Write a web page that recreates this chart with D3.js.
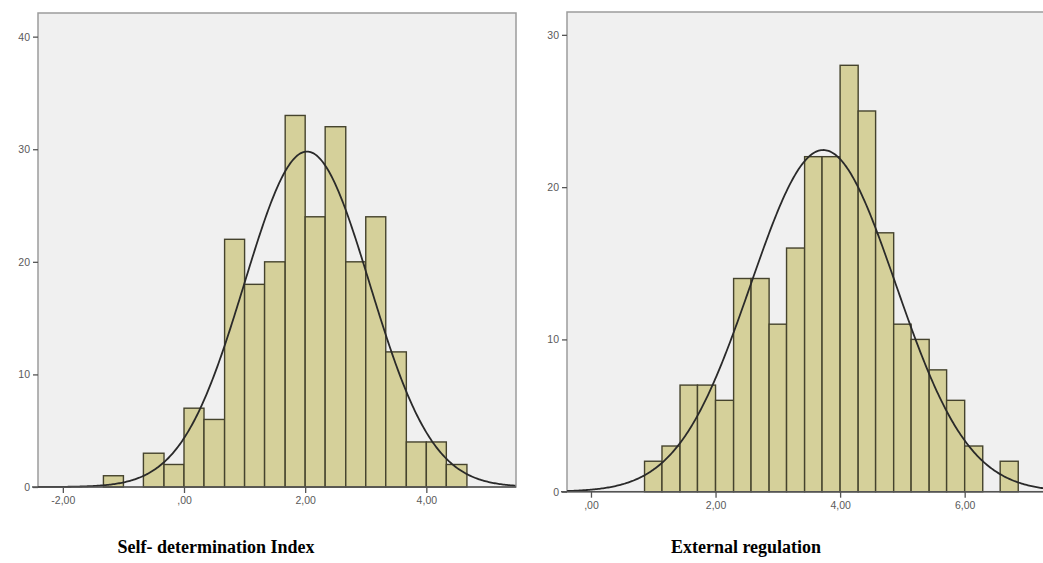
<!DOCTYPE html>
<html>
<head>
<meta charset="utf-8">
<script src="https://cdn.jsdelivr.net/npm/d3@7"></script>
<style>
  body { margin: 0; background: #fff; }
  .tick text { font-family: "Liberation Sans", Arial, sans-serif; font-size: 10.5px; fill: #5a5a5a; }
  .tick line { stroke: #555; stroke-width: 1.3; }
  .domain { display: none; }
  .title { font-family: "Liberation Serif", "Times New Roman", serif; font-weight: bold; font-size: 18px; fill: #000; }
</style>
</head>
<body>
<div id="chart"></div>
<script>
// two SPSS style histograms with fitted normal curve

// Self-determination Index
let sdiEdges = [-1.33, -1.00, -0.67, -0.33, 0.00, 0.33, 0.67, 1.00, 1.33, 1.67, 2.00, 2.33, 2.67, 3.00, 3.33, 3.67, 4.00, 4.33, 4.67]
let sdiCounts = [1, 0, 3, 2, 7, 6, 22, 18, 20, 33, 24, 32, 20, 24, 12, 4, 4, 2]
let sdiMean = 2.03
let sdiSd = 1.034
let sdiXTicks = [-2, 0, 2, 4]
let sdiYTicks = [0, 10, 20, 30, 40]

// External regulation
let erEdges = [0.86, 1.14, 1.43, 1.71, 2.00, 2.29, 2.57, 2.86, 3.14, 3.43, 3.71, 4.00, 4.29, 4.57, 4.86, 5.14, 5.43, 5.71, 6.00, 6.29, 6.57, 6.86]
let erCounts = [2, 3, 7, 7, 6, 14, 14, 11, 16, 22, 22, 28, 25, 17, 11, 10, 8, 6, 3, 0, 2]
let erMean = 3.73
let erSd = 1.165
let erXTicks = [0, 2, 4, 6]
let erYTicks = [0, 10, 20, 30]

let titles = ["Self- determination Index", "External regulation"]

let width = 1043
let height = 563

let svg = d3.select('#chart')
    .append('svg')
    .attr('width', width)
    .attr('height', height)

let fmt = d => d === 0 ? ',00' : d.toFixed(2).replace('.', ',')

function histogram(opts) {
    let x = d3.scaleLinear().domain(opts.xDomain).range([opts.left, opts.right])
    let y = d3.scaleLinear().domain(opts.yDomain).range([opts.bottom, opts.top])

    let g = svg.append('g')

    g.append('rect')
        .attr('x', opts.left)
        .attr('y', opts.top)
        .attr('width', opts.right - opts.left)
        .attr('height', opts.bottom - opts.top)
        .attr('fill', '#f0f0f0')
        .attr('stroke', '#9c9c9c')
        .attr('stroke-width', 1.5)

    let bins = opts.counts.map((c, i) => ({lo: opts.edges[i], hi: opts.edges[i + 1], n: c}))
        .filter(b => b.n > 0)

    g.selectAll('.bar')
        .data(bins)
        .enter()
        .append('rect')
        .attr('class', 'bar')
        .attr('x', d => x(d.lo))
        .attr('y', d => y(d.n))
        .attr('width', d => x(d.hi) - x(d.lo))
        .attr('height', d => y(0) - y(d.n))
        .attr('fill', '#d5d09a')
        .attr('stroke', '#45432d')
        .attr('stroke-width', 1.4)

    // fitted normal curve
    let n = d3.sum(opts.counts)
    let bw = opts.edges[1] - opts.edges[0]
    let curve = d3.range(opts.xDomain[0], opts.xDomain[1] + 0.01, 0.02).map(v => {
        let z = (v - opts.mean) / opts.sd
        return [v, n * bw * Math.exp(-z * z / 2) / (opts.sd * Math.sqrt(2 * Math.PI))]
    })
    g.append('path')
        .datum(curve)
        .attr('fill', 'none')
        .attr('stroke', '#2a2a2a')
        .attr('stroke-width', 1.8)
        .attr('d', d3.line().x(d => x(d[0])).y(d => y(d[1])))

    // x axis line
    g.append('line')
        .attr('x1', opts.left - 6).attr('x2', opts.right)
        .attr('y1', y(0)).attr('y2', y(0))
        .attr('stroke', '#555').attr('stroke-width', 1.5)

    g.append('g')
        .attr('transform', `translate(0,${y(0)})`)
        .call(d3.axisBottom(x).tickValues(opts.xTicks).tickFormat(fmt).tickSize(6).tickPadding(4))

    g.append('g')
        .attr('transform', `translate(${opts.left},0)`)
        .call(d3.axisLeft(y).tickValues(opts.yTicks).tickSize(5).tickPadding(3))

    g.append('text')
        .attr('class', 'title')
        .attr('x', opts.titleX)
        .attr('y', 553)
        .attr('text-anchor', 'middle')
        .text(opts.title)
}

histogram({
    edges: sdiEdges, counts: sdiCounts, mean: sdiMean, sd: sdiSd,
    xTicks: sdiXTicks, yTicks: sdiYTicks,
    xDomain: [-2.41, 5.48], yDomain: [0, 42.1],
    left: 38, right: 516, top: 13, bottom: 487,
    title: titles[0], titleX: 216
})

histogram({
    edges: erEdges, counts: erCounts, mean: erMean, sd: erSd,
    xTicks: erXTicks, yTicks: erYTicks,
    xDomain: [-0.385, 7.37], yDomain: [0, 31.5],
    left: 567, right: 1050, top: 12, bottom: 491.7,
    title: titles[1], titleX: 746
})
</script>
</body>
</html>
